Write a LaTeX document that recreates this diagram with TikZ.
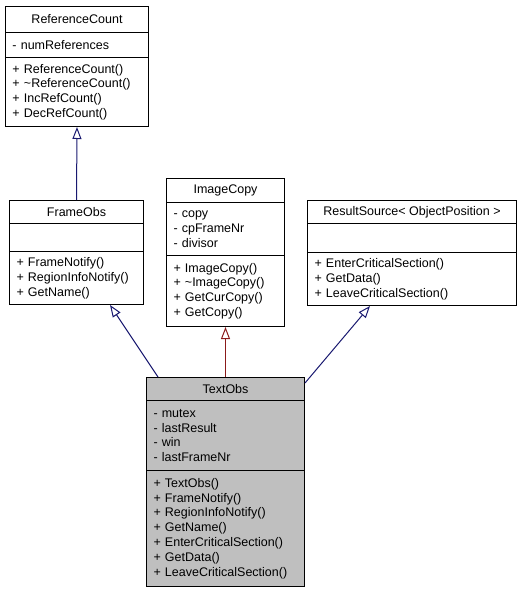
\documentclass[tikz,border=0pt]{standalone}
\usepackage{fontspec}
\setmainfont{Liberation Sans}
\usetikzlibrary{arrows.meta}
\definecolor{inhblue}{HTML}{191970}
\definecolor{inhred}{HTML}{8B1A1A}
\definecolor{curgray}{HTML}{BFBFBF}
\tikzset{
    umlhead/.style={draw=black, line width=1pt, fill=white, anchor=north west, inner sep=0pt, align=center},
    umlpart/.style={draw=black, line width=1pt, fill=white, anchor=north west, inner ysep=0pt, inner xsep=7pt, align=left},
    inherit/.style={line width=1pt, -{Triangle[open, length=12pt, width=9pt]}}
}
\begin{document}
\begin{tikzpicture}[x=1pt, y=-1pt, font=\fontsize{12.5}{14.8}\selectfont]
    \useasboundingbox (0,0) rectangle (521,592);
    % Base class of FrameObs
    \node[umlhead, minimum width=143pt, minimum height=26pt] (RefCountHead) at (5,6) {ReferenceCount};
    \node[umlpart, text width=129pt, minimum height=25pt] (RefCountAttr) at (5,32) {- numReferences};
    \node[umlpart, text width=129pt, minimum height=69pt] (RefCountOps) at (5,57) {+ ReferenceCount()\\+ \textasciitilde ReferenceCount()\\+ IncRefCount()\\+ DecRefCount()};

    % Direct base classes
    \node[umlhead, minimum width=134pt, minimum height=23pt] (FrameObsHead) at (9,200) {FrameObs};
    \node[umlpart, text width=120pt, minimum height=28pt] (FrameObsAttr) at (9,223) {};
    \node[umlpart, text width=120pt, minimum height=53pt] (FrameObsOps) at (9,251) {+ FrameNotify()\\+ RegionInfoNotify()\\+ GetName()};

    \node[umlhead, minimum width=118pt, minimum height=24pt] (ImageCopyHead) at (166,178) {ImageCopy};
    \node[umlpart, text width=104pt, minimum height=53pt] (ImageCopyAttr) at (166,202) {- copy\\- cpFrameNr\\- divisor};
    \node[umlpart, text width=104pt, minimum height=71pt] (ImageCopyOps) at (166,255) {+ ImageCopy()\\+ \textasciitilde ImageCopy()\\+ GetCurCopy()\\+ GetCopy()};

    \node[umlhead, minimum width=209pt, minimum height=23pt] (ResultSourceHead) at (307,200) {ResultSource< ObjectPosition >};
    \node[umlpart, text width=195pt, minimum height=29pt] (ResultSourceAttr) at (307,223) {};
    \node[umlpart, text width=195pt, minimum height=53pt] (ResultSourceOps) at (307,252) {+ EnterCriticalSection()\\+ GetData()\\+ LeaveCriticalSection()};

    % The documented class (highlighted)
    \node[umlhead, fill=curgray, minimum width=158pt, minimum height=23pt] (TextObsHead) at (146,377) {TextObs};
    \node[umlpart, fill=curgray, text width=144pt, minimum height=70pt] (TextObsAttr) at (146,400) {- mutex\\- lastResult\\- win\\- lastFrameNr};
    \node[umlpart, fill=curgray, text width=144pt, minimum height=116pt] (TextObsOps) at (146,470) {+ TextObs()\\+ FrameNotify()\\+ RegionInfoNotify()\\+ GetName()\\+ EnterCriticalSection()\\+ GetData()\\+ LeaveCriticalSection()};

    % Inheritance
    \draw[inherit, inhblue] (FrameObsHead.north) -- (RefCountOps.south);
    \draw[inherit, inhblue] ([xshift=12pt]TextObsHead.north west) -- ([xshift=101pt]FrameObsOps.south west);
    \draw[inherit, inhred] (TextObsHead.north) -- (ImageCopyOps.south);
    \draw[inherit, inhblue] ([yshift=-6pt]TextObsHead.north east) -- ([xshift=63pt]ResultSourceOps.south west);
\end{tikzpicture}
\end{document}
